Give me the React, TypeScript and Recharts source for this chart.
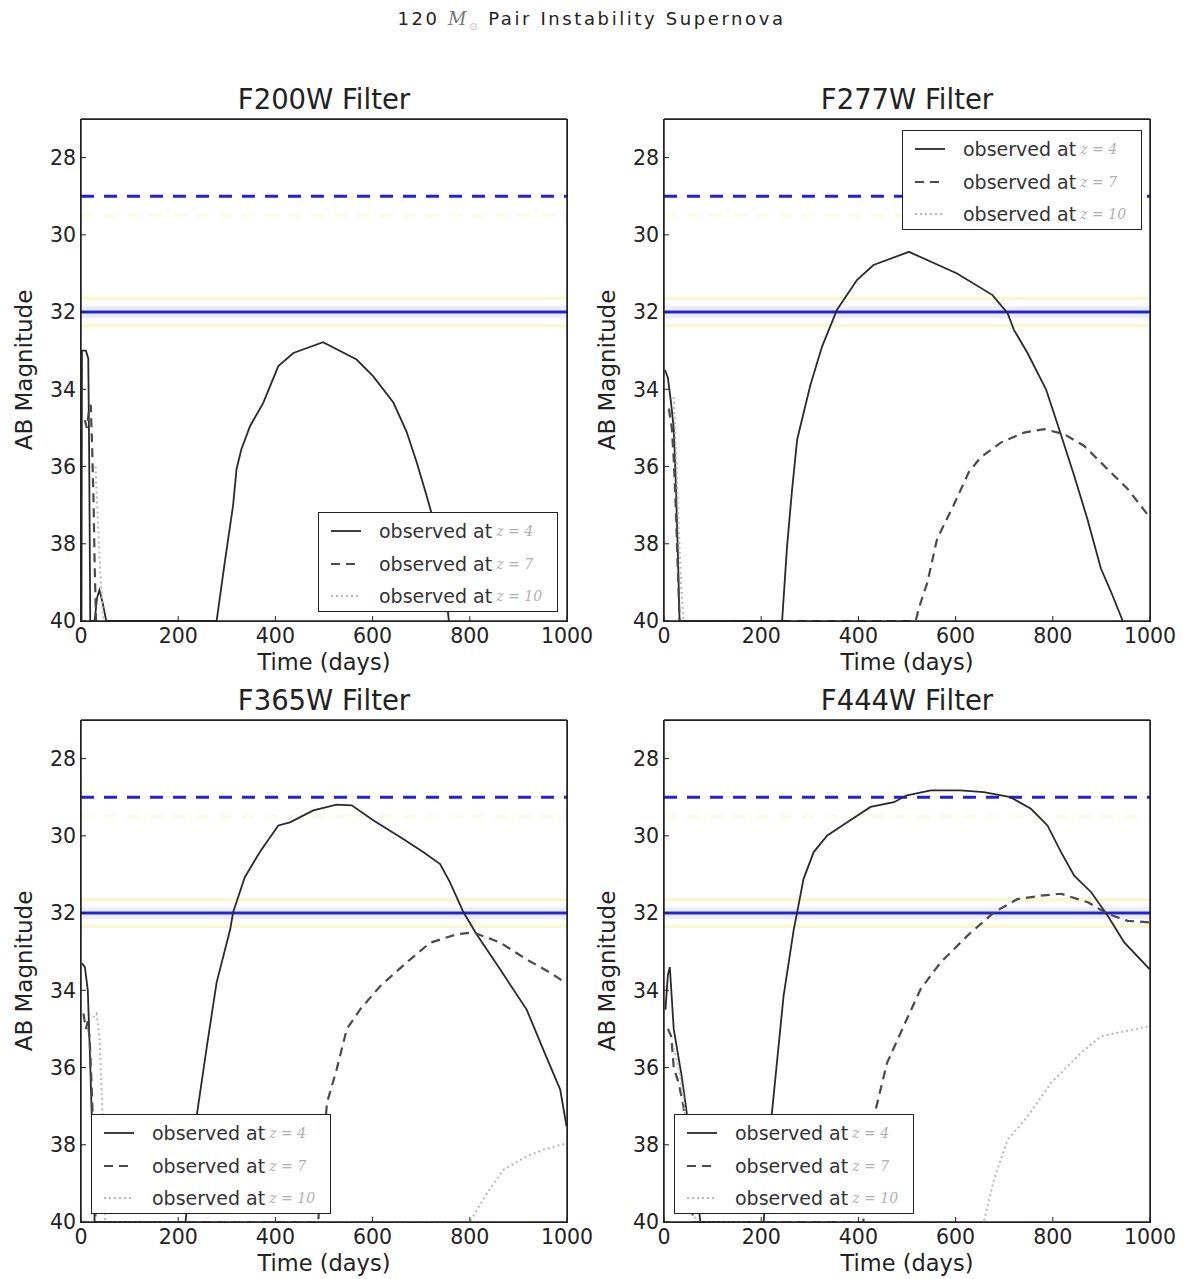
import React from 'react'
import { LineChart, Line, XAxis, YAxis, ReferenceLine } from 'recharts'

type Pt = [number, number]

// time (days) vs AB magnitude
const f200wZ4: Pt[] = [[1, 40], [2, 33.0], [10, 33.0], [15, 33.2], [17, 36], [19, 40], [28, 40], [33, 39.4], [38, 39.2], [44, 39.5], [52, 40], [279, 40], [296, 38.46], [313, 37.0], [320, 36.07], [330, 35.55], [348, 34.95], [375, 34.35], [406, 33.4], [437, 33.06], [498, 32.78], [567, 33.23], [601, 33.66], [643, 34.35], [670, 35.1], [691, 35.9], [711, 36.75], [730, 37.6], [745, 38.6], [757, 40]]
const f200wZ7: Pt[] = [[8, 34.8], [12, 35.0], [16, 34.6], [20, 34.4], [23, 35.5], [26, 37], [28, 38.5], [31, 40]]
const f200wZ10: Pt[] = [[30, 36], [35, 37.5], [40, 38.8], [46, 40]]

const f277wZ4: Pt[] = [[2, 33.5], [8, 33.7], [14, 34.3], [20, 35.0], [24, 36.3], [28, 38], [32, 40], [243, 40], [253, 38.1], [263, 36.67], [274, 35.3], [301, 33.9], [325, 32.9], [356, 31.94], [397, 31.17], [431, 30.78], [504, 30.44], [603, 31.0], [676, 31.56], [707, 32.03], [720, 32.46], [748, 33.06], [786, 34.0], [813, 35.03], [844, 36.24], [871, 37.35], [899, 38.64], [920, 39.25], [944, 40]]
const f277wZ7: Pt[] = [[10, 34.5], [16, 35.0], [20, 35.8], [24, 37], [28, 38.5], [32, 40], [518, 40], [524, 39.68], [542, 39.0], [562, 37.87], [596, 37.0], [627, 36.15], [651, 35.77], [693, 35.38], [741, 35.12], [782, 35.03], [823, 35.16], [864, 35.46], [913, 36.07], [954, 36.58], [999, 37.31]]
const f277wZ10: Pt[] = [[20, 34.2], [26, 36], [30, 37.5], [35, 39], [40, 40]]

const f365wZ4: Pt[] = [[2, 33.3], [8, 33.4], [14, 34.0], [18, 35.5], [22, 37.2], [26, 39], [28, 40], [215, 40], [238, 37.26], [259, 35.45], [279, 33.8], [307, 32.42], [313, 31.98], [337, 31.07], [368, 30.42], [406, 29.73], [430, 29.65], [478, 29.34], [526, 29.19], [557, 29.21], [602, 29.6], [663, 30.08], [704, 30.42], [739, 30.73], [759, 31.2], [787, 31.98], [814, 32.55], [862, 33.45], [917, 34.5], [951, 35.53], [986, 36.57], [999, 37.52]]
const f365wZ7: Pt[] = [[5, 34.6], [10, 35.0], [14, 34.8], [18, 35.3], [22, 36.5], [26, 38], [30, 40], [488, 40], [506, 36.92], [526, 36.05], [547, 35.0], [574, 34.5], [615, 33.9], [670, 33.28], [718, 32.77], [773, 32.55], [807, 32.5], [862, 32.76], [917, 33.2], [965, 33.54], [996, 33.8]]
const f365wZ10: Pt[] = [[25, 34.7], [32, 34.6], [38, 35.2], [42, 36.5], [46, 38], [50, 40], [800, 40], [835, 39.26], [869, 38.65], [917, 38.3], [951, 38.13], [999, 37.96]]

const f444wZ4: Pt[] = [[3, 34.5], [8, 33.6], [12, 33.4], [16, 34.2], [20, 35], [28, 35.6], [36, 36.2], [45, 37], [55, 38], [65, 39], [75, 40], [205, 40], [222, 37.18], [246, 34.15], [267, 32.42], [274, 31.98], [287, 31.12], [308, 30.42], [336, 29.99], [377, 29.65], [425, 29.25], [473, 29.13], [500, 28.95], [549, 28.82], [610, 28.82], [658, 28.87], [713, 29.0], [755, 29.3], [789, 29.73], [817, 30.42], [844, 31.03], [879, 31.46], [913, 32.07], [947, 32.76], [999, 33.45]]
const f444wZ7: Pt[] = [[8, 35], [15, 35.2], [20, 36], [30, 36.4], [40, 37], [50, 38.5], [60, 40], [410, 40], [432, 37.27], [459, 35.88], [493, 34.93], [528, 33.97], [569, 33.28], [624, 32.59], [679, 31.98], [727, 31.64], [775, 31.55], [817, 31.5], [872, 31.72], [913, 32.02], [954, 32.2], [999, 32.24]]
const f444wZ10: Pt[] = [[20, 35.5], [30, 36], [40, 36.8], [50, 38], [65, 40], [658, 40], [679, 38.9], [707, 37.87], [748, 37.27], [796, 36.4], [858, 35.62], [899, 35.19], [933, 35.1], [999, 34.93]]

const dayTicks = [0, 200, 400, 600, 800, 1000]
const magTicks = [28, 30, 32, 34, 36, 38, 40]
const redshifts = ['4', '7', '10']

const FONT = '"DejaVu Sans", sans-serif'
const seriesStyle = [
  { stroke: '#2a2a2a', width: 1.8, dash: undefined as string | undefined },
  { stroke: '#4a4a4a', width: 2.2, dash: '9 6' },
  { stroke: '#b8b8b8', width: 2, dash: '2 3' },
]

const toRows = (pts: Pt[]) => pts.map(([t, m]) => ({ t, m }))
const blank = () => ''

interface PanelProps {
  left: number
  top: number
  title: string
  series: Pt[][]
  legend: { left: number; top: number }
}

function Legend({ left, top }: { left: number; top: number }) {
  return (
    <div style={{ position: 'absolute', left, top, width: 240, height: 100, border: '1.5px solid #222', background: '#fff', boxSizing: 'border-box' }}>
      {redshifts.map((z, i) => (
        <div key={z} style={{ position: 'absolute', left: 12, top: 6 + i * 32.5, height: 24, display: 'flex', alignItems: 'center', whiteSpace: 'nowrap' }}>
          <svg width={30} height={10}>
            <line x1={0} y1={5} x2={30} y2={5} stroke={seriesStyle[i].stroke} strokeWidth={seriesStyle[i].width} strokeDasharray={seriesStyle[i].dash} />
          </svg>
          <span style={{ marginLeft: 18, fontFamily: FONT, fontSize: 19, color: '#333' }}>observed at</span>
          <span style={{ marginLeft: 4, fontFamily: '"DejaVu Serif", serif', fontStyle: 'italic', fontSize: 14, color: '#b0b0b0' }}>z = {z}</span>
        </div>
      ))}
    </div>
  )
}

function Panel({ left, top, title, series, legend }: PanelProps) {
  const tickStyle = { fontSize: 20.5, fill: '#222', fontFamily: FONT }
  const frame = { stroke: '#222', strokeWidth: 1.5 }
  return (
    <div style={{ position: 'absolute', left, top, width: 600, height: 600 }}>
      <div style={{ position: 'absolute', left: 81, width: 486, top: 23, textAlign: 'center', fontFamily: FONT, fontSize: 27.5, color: '#222' }}>{title}</div>
      <LineChart width={600} height={596} margin={{ top: 58, right: 32, bottom: 5, left: 31 }}>
        <XAxis xAxisId="b" dataKey="t" type="number" domain={[0, 1000]} ticks={dayTicks} allowDataOverflow height={30}
          stroke="#222" tick={tickStyle} tickSize={-5} tickMargin={12} axisLine={frame} tickLine={{ stroke: '#222' }} />
        <XAxis xAxisId="t" orientation="top" type="number" domain={[0, 1000]} ticks={dayTicks} height={1}
          stroke="#222" tickFormatter={blank} tickSize={-5} axisLine={frame} tickLine={{ stroke: '#222' }} />
        <YAxis yAxisId="l" dataKey="m" type="number" domain={[27, 40]} reversed ticks={magTicks} allowDataOverflow width={50}
          tick={tickStyle} tickSize={-5} tickMargin={10} axisLine={frame} tickLine={{ stroke: '#222' }} />
        <YAxis yAxisId="r" orientation="right" type="number" domain={[27, 40]} reversed ticks={magTicks} width={1}
          tickFormatter={blank} tickSize={-5} axisLine={frame} tickLine={{ stroke: '#222' }} />
        <ReferenceLine xAxisId="b" yAxisId="l" y={29.5} stroke="#fcfce2" strokeWidth={3} strokeDasharray="13 10" />
        <ReferenceLine xAxisId="b" yAxisId="l" y={31.65} stroke="#f8f8cc" strokeWidth={3} />
        <ReferenceLine xAxisId="b" yAxisId="l" y={32.35} stroke="#f8f8cc" strokeWidth={3} />
        <ReferenceLine xAxisId="b" yAxisId="l" y={31.9} stroke="#ececff" strokeWidth={4} />
        <ReferenceLine xAxisId="b" yAxisId="l" y={32.1} stroke="#ececff" strokeWidth={4} />
        <ReferenceLine xAxisId="b" yAxisId="l" y={29} stroke="#2323d6" strokeWidth={3} strokeDasharray="13 10" />
        <ReferenceLine xAxisId="b" yAxisId="l" y={32} stroke="#2323d6" strokeWidth={3} />
        {series.map((pts, i) => (
          <Line key={i} xAxisId="b" yAxisId="l" data={toRows(pts)} dataKey="m" type="linear" dot={false} activeDot={false}
            stroke={seriesStyle[i].stroke} strokeWidth={seriesStyle[i].width} strokeDasharray={seriesStyle[i].dash}
            isAnimationActive={false} />
        ))}
      </LineChart>
      <div style={{ position: 'absolute', left: 80, top: 58.5, width: 488, height: 503, border: '1.5px solid #222', boxSizing: 'border-box', pointerEvents: 'none' }} />
      <div style={{ position: 'absolute', left: 81, width: 486, top: 589, textAlign: 'center', fontFamily: FONT, fontSize: 22.5, color: '#222' }}>Time (days)</div>
      <div style={{ position: 'absolute', left: 24, top: 310, transform: 'translate(-50%, -50%) rotate(-90deg)', whiteSpace: 'nowrap', fontFamily: FONT, fontSize: 23, color: '#222' }}>AB Magnitude</div>
      <Legend left={legend.left} top={legend.top} />
    </div>
  )
}

export default function App() {
  return (
    <div style={{ position: 'absolute', left: 0, top: 0, width: 1183, height: 1279, background: '#fff' }}>
      <div style={{ position: 'absolute', left: 0, width: 1183, top: 8, textAlign: 'center', fontFamily: FONT, fontSize: 18, letterSpacing: 2.6, color: '#222' }}>
        120 <span style={{ fontFamily: '"DejaVu Serif", serif', fontStyle: 'italic', color: '#777' }}>M</span>
        <sub style={{ fontSize: 10, color: '#bbb' }}>⊙</sub> Pair Instability Supernova
      </div>
      <Panel left={0} top={60} title="F200W Filter" series={[f200wZ4, f200wZ7, f200wZ10]} legend={{ left: 318, top: 452 }} />
      <Panel left={583} top={60} title="F277W Filter" series={[f277wZ4, f277wZ7, f277wZ10]} legend={{ left: 319, top: 70 }} />
      <Panel left={0} top={661} title="F365W Filter" series={[f365wZ4, f365wZ7, f365wZ10]} legend={{ left: 91, top: 453 }} />
      <Panel left={583} top={661} title="F444W Filter" series={[f444wZ4, f444wZ7, f444wZ10]} legend={{ left: 91, top: 453 }} />
    </div>
  )
}
